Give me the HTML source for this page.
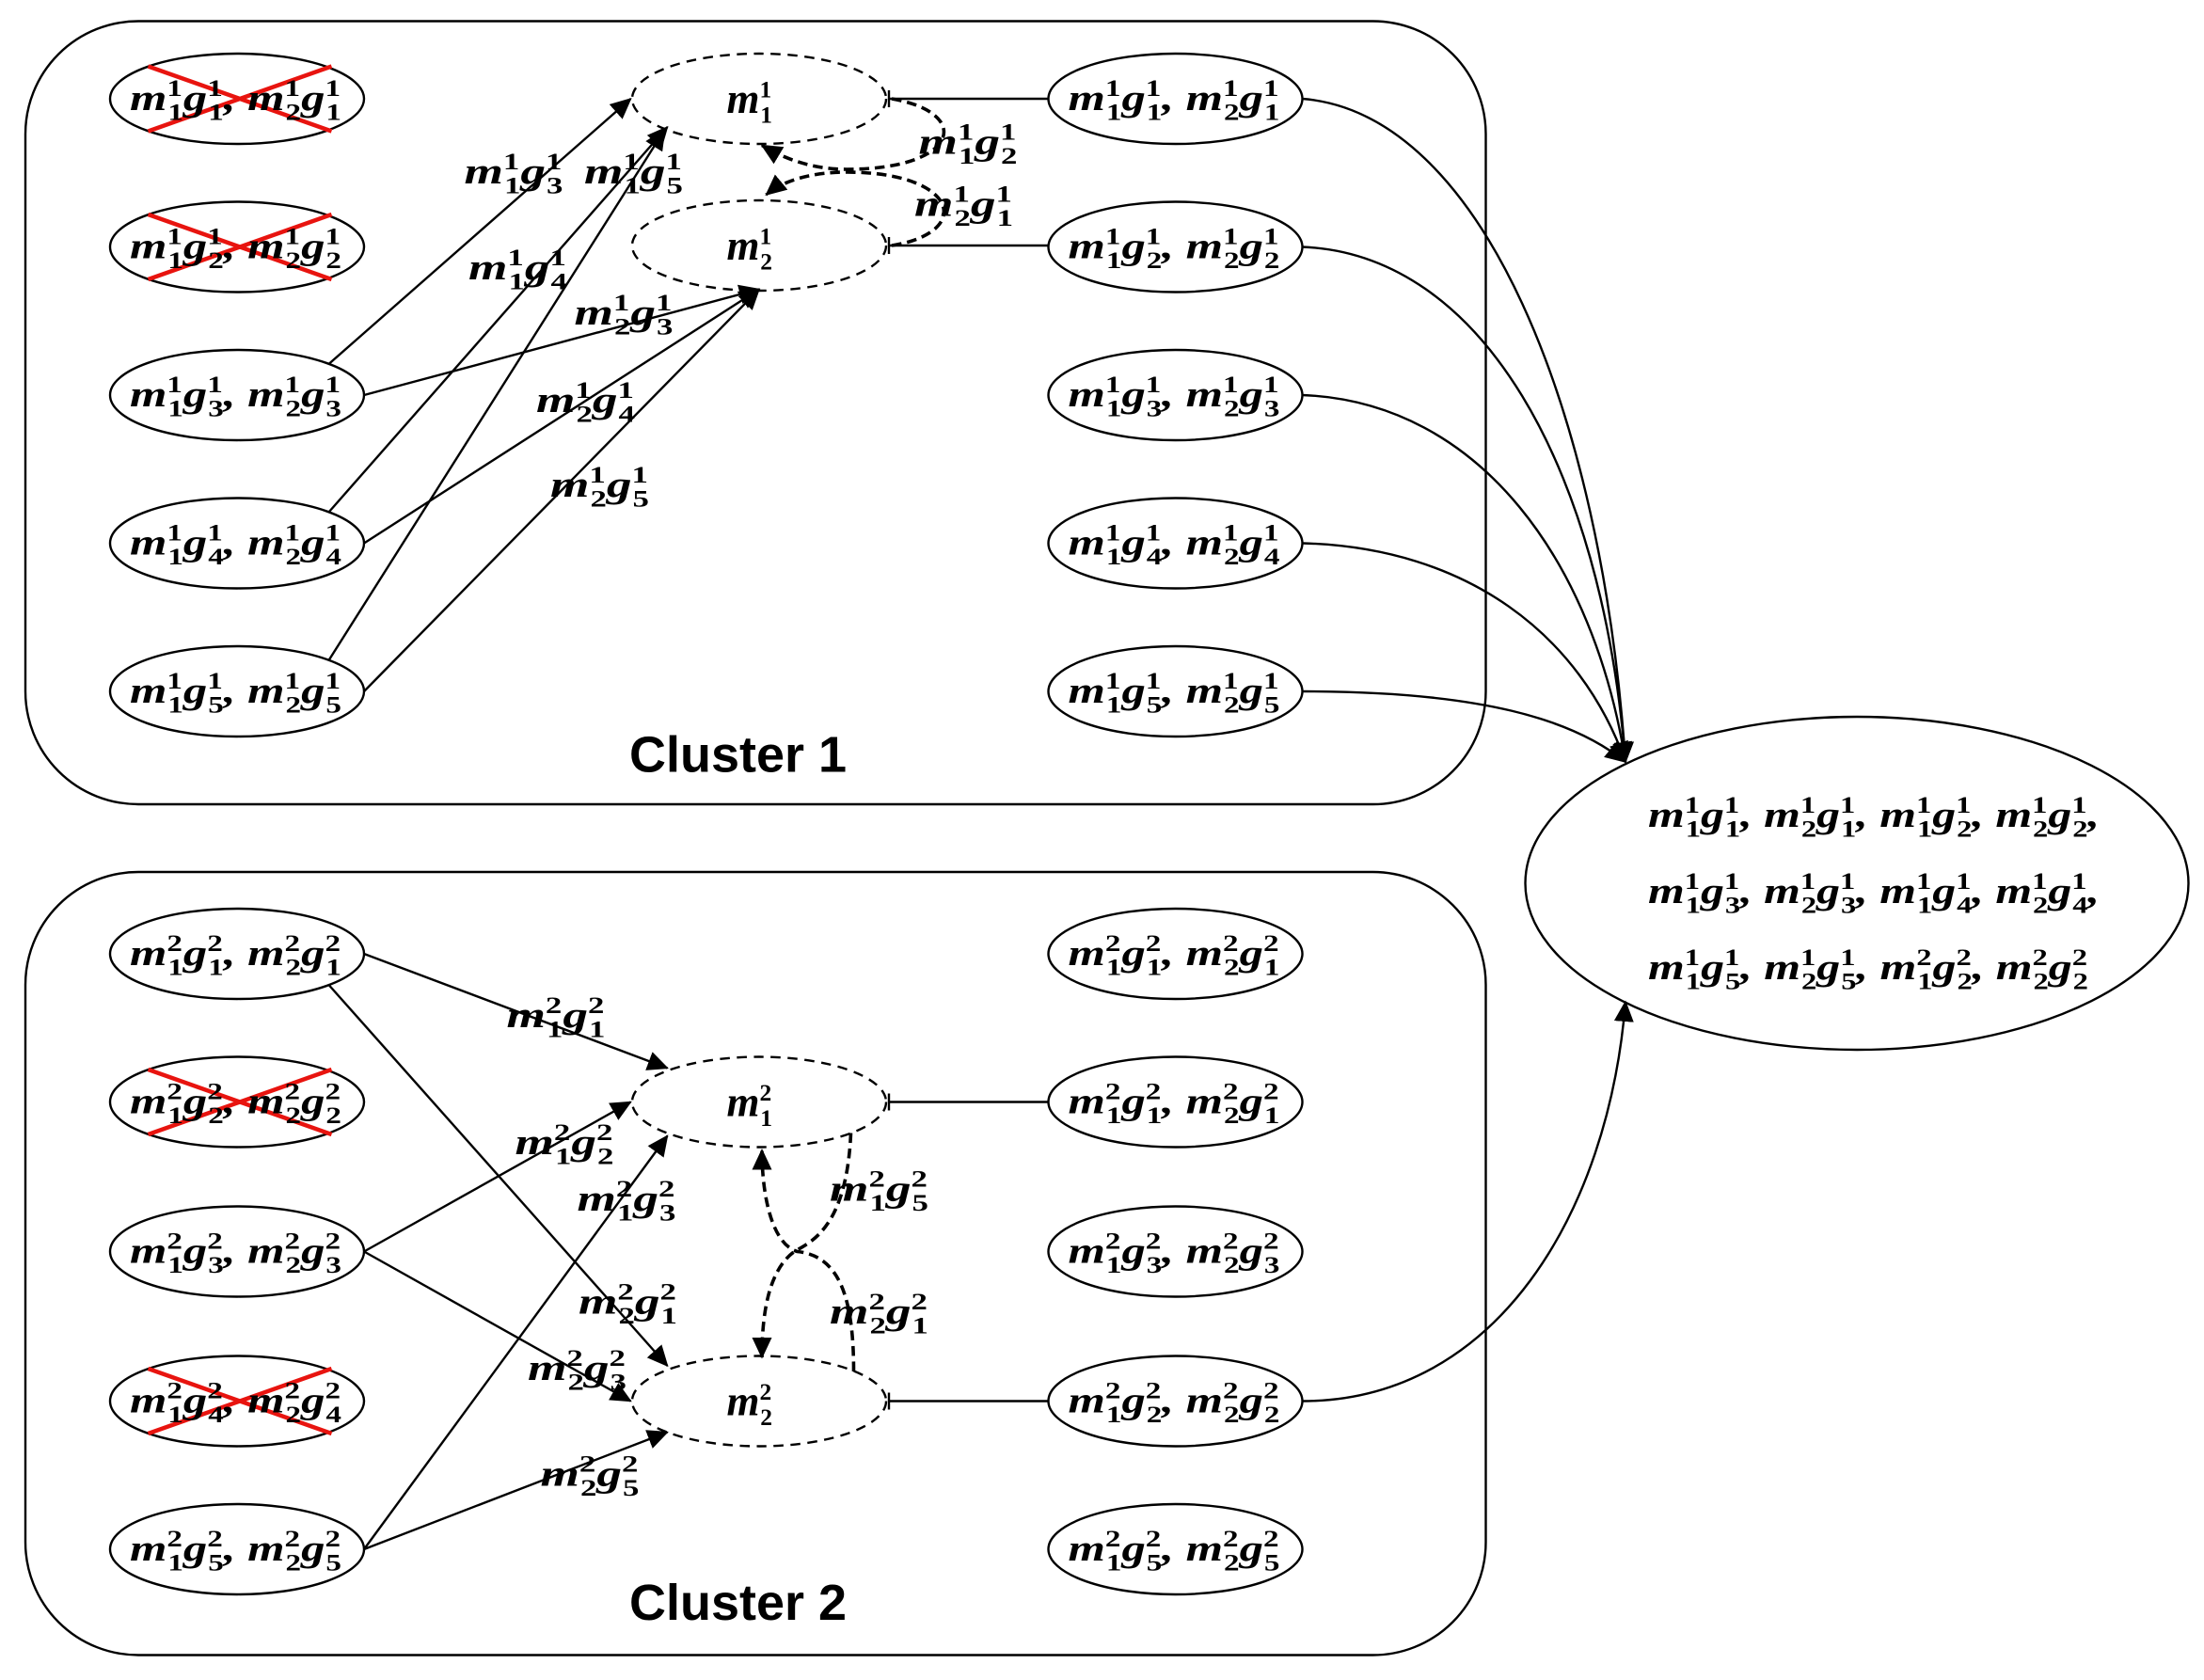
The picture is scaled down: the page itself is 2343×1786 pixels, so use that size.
<!DOCTYPE html>
<html><head><meta charset="utf-8"><style>
html,body{margin:0;padding:0;background:#fff}
svg{display:block}
text{font-family:"Liberation Serif",serif;font-weight:bold;font-style:italic;font-size:26px;fill:#000}
text:not([textLength]){font-size:30px}
.s{font-size:17px;font-style:normal}
text.cl{font-family:"Liberation Sans",sans-serif;font-style:normal;font-size:36px}
</style></head><body>
<svg width="2343" height="1786" viewBox="0 0 1562 1190.67" xmlns="http://www.w3.org/2000/svg">
<defs>
<marker id="a" markerUnits="userSpaceOnUse" markerWidth="16" markerHeight="14" refX="14" refY="7" orient="auto"><path d="M0,0 L15,7 L0,14 Z" fill="#000"/></marker>
</defs>
<g fill="none" stroke="#000" stroke-width="1.6">
<rect x="18" y="15" width="1035" height="555" rx="80"/>
<rect x="18" y="618" width="1035" height="555" rx="80"/>
<ellipse cx="168" cy="70" rx="90" ry="32"/><ellipse cx="168" cy="175" rx="90" ry="32"/><ellipse cx="168" cy="280" rx="90" ry="32"/><ellipse cx="168" cy="385" rx="90" ry="32"/><ellipse cx="168" cy="490" rx="90" ry="32"/>
<ellipse cx="168" cy="676" rx="90" ry="32"/><ellipse cx="168" cy="781" rx="90" ry="32"/><ellipse cx="168" cy="887" rx="90" ry="32"/><ellipse cx="168" cy="993" rx="90" ry="32"/><ellipse cx="168" cy="1098" rx="90" ry="32"/>
<ellipse cx="833" cy="70" rx="90" ry="32"/><ellipse cx="833" cy="175" rx="90" ry="32"/><ellipse cx="833" cy="280" rx="90" ry="32"/><ellipse cx="833" cy="385" rx="90" ry="32"/><ellipse cx="833" cy="490" rx="90" ry="32"/>
<ellipse cx="833" cy="676" rx="90" ry="32"/><ellipse cx="833" cy="781" rx="90" ry="32"/><ellipse cx="833" cy="887" rx="90" ry="32"/><ellipse cx="833" cy="993" rx="90" ry="32"/><ellipse cx="833" cy="1098" rx="90" ry="32"/>
<ellipse cx="1316" cy="626" rx="235" ry="118"/>
<g stroke-dasharray="7,5">
<ellipse cx="538" cy="70" rx="90" ry="32"/><ellipse cx="538" cy="174" rx="90" ry="32"/>
<ellipse cx="538" cy="781" rx="90" ry="32"/><ellipse cx="538" cy="993" rx="90" ry="32"/>
</g>
<path d="M630,70 H743 M630,174 H743 M630,781 H743 M630,993 H743"/>
<path d="M630,64 V76 M630,168 V180 M630,775 V787 M630,987 V999"/>
<g marker-end="url(#a)">
<path d="M233,258 L447,70"/>
<path d="M258,280 L538,205"/>
<path d="M233,363 L473,90"/>
<path d="M258,385 L538,205"/>
<path d="M233,468 L471,92"/>
<path d="M258,490 L538,205"/>
<path d="M258,676 L473,757"/>
<path d="M233,698 L473,968"/>
<path d="M258,887 L447,781"/>
<path d="M258,887 L447,993"/>
<path d="M258,1098 L473,805"/>
<path d="M258,1098 L473,1015"/>
<path d="M923,70 C1050,80 1135,290 1152,540"/>
<path d="M923,175 C1050,180 1135,330 1152,540"/>
<path d="M923,280 C1050,285 1130,400 1152,540"/>
<path d="M923,385 C1040,388 1120,450 1152,540"/>
<path d="M923,490 C1050,490 1115,510 1152,540"/>
<path d="M923,993 C1060,993 1140,860 1152,710"/>
</g>
<g stroke-dasharray="7,4" stroke-width="2.4" marker-end="url(#a)">
<path d="M632,70 C690,80 680,120 600,120 C575,120 555,112 540,103"/>
<path d="M632,174 C690,165 680,122 600,122 C575,122 555,128 543,138"/>
<path d="M603,803 C600,870 575,880 563,887 C545,900 540,930 540,962"/>
<path d="M605,972 C605,920 595,890 565,887 C548,882 540,850 540,815"/>
</g>
</g>
<g stroke="#e8140f" stroke-width="3">
<path d="M105,47 L235,93 M105,93 L235,47"/>
<path d="M105,152 L235,198 M105,198 L235,152"/>
<path d="M105,758 L235,804 M105,804 L235,758"/>
<path d="M105,970 L235,1016 M105,1016 L235,970"/>
</g>
<text class="cl" x="523" y="547" text-anchor="middle">Cluster 1</text>
<text class="cl" x="523" y="1148" text-anchor="middle">Cluster 2</text>

<text x="515" y="80">m<tspan class="s" dy="-11">1</tspan><tspan class="s" dx="-8" dy="18">1</tspan></text>
<text x="515" y="184">m<tspan class="s" dy="-11">1</tspan><tspan class="s" dx="-8" dy="18">2</tspan></text>
<text x="515" y="791">m<tspan class="s" dy="-11">2</tspan><tspan class="s" dx="-8" dy="18">1</tspan></text>
<text x="515" y="1003">m<tspan class="s" dy="-11">2</tspan><tspan class="s" dx="-8" dy="18">2</tspan></text>

<text x="92" y="78" textLength="150" lengthAdjust="spacingAndGlyphs">m<tspan class="s" dy="-10">1</tspan><tspan class="s" dx="-8" dy="17">1</tspan><tspan dy="-7">g</tspan><tspan class="s" dy="-10">1</tspan><tspan class="s" dx="-8" dy="17">1</tspan><tspan dy="-7">, m</tspan><tspan class="s" dy="-10">1</tspan><tspan class="s" dx="-8" dy="17">2</tspan><tspan dy="-7">g</tspan><tspan class="s" dy="-10">1</tspan><tspan class="s" dx="-8" dy="17">1</tspan></text>
<text x="92" y="183" textLength="150" lengthAdjust="spacingAndGlyphs">m<tspan class="s" dy="-10">1</tspan><tspan class="s" dx="-8" dy="17">1</tspan><tspan dy="-7">g</tspan><tspan class="s" dy="-10">1</tspan><tspan class="s" dx="-8" dy="17">2</tspan><tspan dy="-7">, m</tspan><tspan class="s" dy="-10">1</tspan><tspan class="s" dx="-8" dy="17">2</tspan><tspan dy="-7">g</tspan><tspan class="s" dy="-10">1</tspan><tspan class="s" dx="-8" dy="17">2</tspan></text>
<text x="92" y="288" textLength="150" lengthAdjust="spacingAndGlyphs">m<tspan class="s" dy="-10">1</tspan><tspan class="s" dx="-8" dy="17">1</tspan><tspan dy="-7">g</tspan><tspan class="s" dy="-10">1</tspan><tspan class="s" dx="-8" dy="17">3</tspan><tspan dy="-7">, m</tspan><tspan class="s" dy="-10">1</tspan><tspan class="s" dx="-8" dy="17">2</tspan><tspan dy="-7">g</tspan><tspan class="s" dy="-10">1</tspan><tspan class="s" dx="-8" dy="17">3</tspan></text>
<text x="92" y="393" textLength="150" lengthAdjust="spacingAndGlyphs">m<tspan class="s" dy="-10">1</tspan><tspan class="s" dx="-8" dy="17">1</tspan><tspan dy="-7">g</tspan><tspan class="s" dy="-10">1</tspan><tspan class="s" dx="-8" dy="17">4</tspan><tspan dy="-7">, m</tspan><tspan class="s" dy="-10">1</tspan><tspan class="s" dx="-8" dy="17">2</tspan><tspan dy="-7">g</tspan><tspan class="s" dy="-10">1</tspan><tspan class="s" dx="-8" dy="17">4</tspan></text>
<text x="92" y="498" textLength="150" lengthAdjust="spacingAndGlyphs">m<tspan class="s" dy="-10">1</tspan><tspan class="s" dx="-8" dy="17">1</tspan><tspan dy="-7">g</tspan><tspan class="s" dy="-10">1</tspan><tspan class="s" dx="-8" dy="17">5</tspan><tspan dy="-7">, m</tspan><tspan class="s" dy="-10">1</tspan><tspan class="s" dx="-8" dy="17">2</tspan><tspan dy="-7">g</tspan><tspan class="s" dy="-10">1</tspan><tspan class="s" dx="-8" dy="17">5</tspan></text>
<text x="757" y="78" textLength="150" lengthAdjust="spacingAndGlyphs">m<tspan class="s" dy="-10">1</tspan><tspan class="s" dx="-8" dy="17">1</tspan><tspan dy="-7">g</tspan><tspan class="s" dy="-10">1</tspan><tspan class="s" dx="-8" dy="17">1</tspan><tspan dy="-7">, m</tspan><tspan class="s" dy="-10">1</tspan><tspan class="s" dx="-8" dy="17">2</tspan><tspan dy="-7">g</tspan><tspan class="s" dy="-10">1</tspan><tspan class="s" dx="-8" dy="17">1</tspan></text>
<text x="757" y="183" textLength="150" lengthAdjust="spacingAndGlyphs">m<tspan class="s" dy="-10">1</tspan><tspan class="s" dx="-8" dy="17">1</tspan><tspan dy="-7">g</tspan><tspan class="s" dy="-10">1</tspan><tspan class="s" dx="-8" dy="17">2</tspan><tspan dy="-7">, m</tspan><tspan class="s" dy="-10">1</tspan><tspan class="s" dx="-8" dy="17">2</tspan><tspan dy="-7">g</tspan><tspan class="s" dy="-10">1</tspan><tspan class="s" dx="-8" dy="17">2</tspan></text>
<text x="757" y="288" textLength="150" lengthAdjust="spacingAndGlyphs">m<tspan class="s" dy="-10">1</tspan><tspan class="s" dx="-8" dy="17">1</tspan><tspan dy="-7">g</tspan><tspan class="s" dy="-10">1</tspan><tspan class="s" dx="-8" dy="17">3</tspan><tspan dy="-7">, m</tspan><tspan class="s" dy="-10">1</tspan><tspan class="s" dx="-8" dy="17">2</tspan><tspan dy="-7">g</tspan><tspan class="s" dy="-10">1</tspan><tspan class="s" dx="-8" dy="17">3</tspan></text>
<text x="757" y="393" textLength="150" lengthAdjust="spacingAndGlyphs">m<tspan class="s" dy="-10">1</tspan><tspan class="s" dx="-8" dy="17">1</tspan><tspan dy="-7">g</tspan><tspan class="s" dy="-10">1</tspan><tspan class="s" dx="-8" dy="17">4</tspan><tspan dy="-7">, m</tspan><tspan class="s" dy="-10">1</tspan><tspan class="s" dx="-8" dy="17">2</tspan><tspan dy="-7">g</tspan><tspan class="s" dy="-10">1</tspan><tspan class="s" dx="-8" dy="17">4</tspan></text>
<text x="757" y="498" textLength="150" lengthAdjust="spacingAndGlyphs">m<tspan class="s" dy="-10">1</tspan><tspan class="s" dx="-8" dy="17">1</tspan><tspan dy="-7">g</tspan><tspan class="s" dy="-10">1</tspan><tspan class="s" dx="-8" dy="17">5</tspan><tspan dy="-7">, m</tspan><tspan class="s" dy="-10">1</tspan><tspan class="s" dx="-8" dy="17">2</tspan><tspan dy="-7">g</tspan><tspan class="s" dy="-10">1</tspan><tspan class="s" dx="-8" dy="17">5</tspan></text>
<text x="92" y="684" textLength="150" lengthAdjust="spacingAndGlyphs">m<tspan class="s" dy="-10">2</tspan><tspan class="s" dx="-8" dy="17">1</tspan><tspan dy="-7">g</tspan><tspan class="s" dy="-10">2</tspan><tspan class="s" dx="-8" dy="17">1</tspan><tspan dy="-7">, m</tspan><tspan class="s" dy="-10">2</tspan><tspan class="s" dx="-8" dy="17">2</tspan><tspan dy="-7">g</tspan><tspan class="s" dy="-10">2</tspan><tspan class="s" dx="-8" dy="17">1</tspan></text>
<text x="92" y="789" textLength="150" lengthAdjust="spacingAndGlyphs">m<tspan class="s" dy="-10">2</tspan><tspan class="s" dx="-8" dy="17">1</tspan><tspan dy="-7">g</tspan><tspan class="s" dy="-10">2</tspan><tspan class="s" dx="-8" dy="17">2</tspan><tspan dy="-7">, m</tspan><tspan class="s" dy="-10">2</tspan><tspan class="s" dx="-8" dy="17">2</tspan><tspan dy="-7">g</tspan><tspan class="s" dy="-10">2</tspan><tspan class="s" dx="-8" dy="17">2</tspan></text>
<text x="92" y="895" textLength="150" lengthAdjust="spacingAndGlyphs">m<tspan class="s" dy="-10">2</tspan><tspan class="s" dx="-8" dy="17">1</tspan><tspan dy="-7">g</tspan><tspan class="s" dy="-10">2</tspan><tspan class="s" dx="-8" dy="17">3</tspan><tspan dy="-7">, m</tspan><tspan class="s" dy="-10">2</tspan><tspan class="s" dx="-8" dy="17">2</tspan><tspan dy="-7">g</tspan><tspan class="s" dy="-10">2</tspan><tspan class="s" dx="-8" dy="17">3</tspan></text>
<text x="92" y="1001" textLength="150" lengthAdjust="spacingAndGlyphs">m<tspan class="s" dy="-10">2</tspan><tspan class="s" dx="-8" dy="17">1</tspan><tspan dy="-7">g</tspan><tspan class="s" dy="-10">2</tspan><tspan class="s" dx="-8" dy="17">4</tspan><tspan dy="-7">, m</tspan><tspan class="s" dy="-10">2</tspan><tspan class="s" dx="-8" dy="17">2</tspan><tspan dy="-7">g</tspan><tspan class="s" dy="-10">2</tspan><tspan class="s" dx="-8" dy="17">4</tspan></text>
<text x="92" y="1106" textLength="150" lengthAdjust="spacingAndGlyphs">m<tspan class="s" dy="-10">2</tspan><tspan class="s" dx="-8" dy="17">1</tspan><tspan dy="-7">g</tspan><tspan class="s" dy="-10">2</tspan><tspan class="s" dx="-8" dy="17">5</tspan><tspan dy="-7">, m</tspan><tspan class="s" dy="-10">2</tspan><tspan class="s" dx="-8" dy="17">2</tspan><tspan dy="-7">g</tspan><tspan class="s" dy="-10">2</tspan><tspan class="s" dx="-8" dy="17">5</tspan></text>
<text x="757" y="684" textLength="150" lengthAdjust="spacingAndGlyphs">m<tspan class="s" dy="-10">2</tspan><tspan class="s" dx="-8" dy="17">1</tspan><tspan dy="-7">g</tspan><tspan class="s" dy="-10">2</tspan><tspan class="s" dx="-8" dy="17">1</tspan><tspan dy="-7">, m</tspan><tspan class="s" dy="-10">2</tspan><tspan class="s" dx="-8" dy="17">2</tspan><tspan dy="-7">g</tspan><tspan class="s" dy="-10">2</tspan><tspan class="s" dx="-8" dy="17">1</tspan></text>
<text x="757" y="789" textLength="150" lengthAdjust="spacingAndGlyphs">m<tspan class="s" dy="-10">2</tspan><tspan class="s" dx="-8" dy="17">1</tspan><tspan dy="-7">g</tspan><tspan class="s" dy="-10">2</tspan><tspan class="s" dx="-8" dy="17">1</tspan><tspan dy="-7">, m</tspan><tspan class="s" dy="-10">2</tspan><tspan class="s" dx="-8" dy="17">2</tspan><tspan dy="-7">g</tspan><tspan class="s" dy="-10">2</tspan><tspan class="s" dx="-8" dy="17">1</tspan></text>
<text x="757" y="895" textLength="150" lengthAdjust="spacingAndGlyphs">m<tspan class="s" dy="-10">2</tspan><tspan class="s" dx="-8" dy="17">1</tspan><tspan dy="-7">g</tspan><tspan class="s" dy="-10">2</tspan><tspan class="s" dx="-8" dy="17">3</tspan><tspan dy="-7">, m</tspan><tspan class="s" dy="-10">2</tspan><tspan class="s" dx="-8" dy="17">2</tspan><tspan dy="-7">g</tspan><tspan class="s" dy="-10">2</tspan><tspan class="s" dx="-8" dy="17">3</tspan></text>
<text x="757" y="1001" textLength="150" lengthAdjust="spacingAndGlyphs">m<tspan class="s" dy="-10">2</tspan><tspan class="s" dx="-8" dy="17">1</tspan><tspan dy="-7">g</tspan><tspan class="s" dy="-10">2</tspan><tspan class="s" dx="-8" dy="17">2</tspan><tspan dy="-7">, m</tspan><tspan class="s" dy="-10">2</tspan><tspan class="s" dx="-8" dy="17">2</tspan><tspan dy="-7">g</tspan><tspan class="s" dy="-10">2</tspan><tspan class="s" dx="-8" dy="17">2</tspan></text>
<text x="757" y="1106" textLength="150" lengthAdjust="spacingAndGlyphs">m<tspan class="s" dy="-10">2</tspan><tspan class="s" dx="-8" dy="17">1</tspan><tspan dy="-7">g</tspan><tspan class="s" dy="-10">2</tspan><tspan class="s" dx="-8" dy="17">5</tspan><tspan dy="-7">, m</tspan><tspan class="s" dy="-10">2</tspan><tspan class="s" dx="-8" dy="17">2</tspan><tspan dy="-7">g</tspan><tspan class="s" dy="-10">2</tspan><tspan class="s" dx="-8" dy="17">5</tspan></text>

<text x="329" y="130" textLength="70" lengthAdjust="spacingAndGlyphs">m<tspan class="s" dy="-10">1</tspan><tspan class="s" dx="-8" dy="17">1</tspan><tspan dy="-7">g</tspan><tspan class="s" dy="-10">1</tspan><tspan class="s" dx="-8" dy="17">3</tspan></text>
<text x="414" y="130" textLength="70" lengthAdjust="spacingAndGlyphs">m<tspan class="s" dy="-10">1</tspan><tspan class="s" dx="-8" dy="17">1</tspan><tspan dy="-7">g</tspan><tspan class="s" dy="-10">1</tspan><tspan class="s" dx="-8" dy="17">5</tspan></text>
<text x="332" y="198" textLength="70" lengthAdjust="spacingAndGlyphs">m<tspan class="s" dy="-10">1</tspan><tspan class="s" dx="-8" dy="17">1</tspan><tspan dy="-7">g</tspan><tspan class="s" dy="-10">1</tspan><tspan class="s" dx="-8" dy="17">4</tspan></text>
<text x="407" y="230" textLength="70" lengthAdjust="spacingAndGlyphs">m<tspan class="s" dy="-10">1</tspan><tspan class="s" dx="-8" dy="17">2</tspan><tspan dy="-7">g</tspan><tspan class="s" dy="-10">1</tspan><tspan class="s" dx="-8" dy="17">3</tspan></text>
<text x="380" y="292" textLength="70" lengthAdjust="spacingAndGlyphs">m<tspan class="s" dy="-10">1</tspan><tspan class="s" dx="-8" dy="17">2</tspan><tspan dy="-7">g</tspan><tspan class="s" dy="-10">1</tspan><tspan class="s" dx="-8" dy="17">4</tspan></text>
<text x="390" y="352" textLength="70" lengthAdjust="spacingAndGlyphs">m<tspan class="s" dy="-10">1</tspan><tspan class="s" dx="-8" dy="17">2</tspan><tspan dy="-7">g</tspan><tspan class="s" dy="-10">1</tspan><tspan class="s" dx="-8" dy="17">5</tspan></text>
<text x="651" y="109" textLength="70" lengthAdjust="spacingAndGlyphs">m<tspan class="s" dy="-10">1</tspan><tspan class="s" dx="-8" dy="17">1</tspan><tspan dy="-7">g</tspan><tspan class="s" dy="-10">1</tspan><tspan class="s" dx="-8" dy="17">2</tspan></text>
<text x="648" y="153" textLength="70" lengthAdjust="spacingAndGlyphs">m<tspan class="s" dy="-10">1</tspan><tspan class="s" dx="-8" dy="17">2</tspan><tspan dy="-7">g</tspan><tspan class="s" dy="-10">1</tspan><tspan class="s" dx="-8" dy="17">1</tspan></text>
<text x="359" y="728" textLength="70" lengthAdjust="spacingAndGlyphs">m<tspan class="s" dy="-10">2</tspan><tspan class="s" dx="-8" dy="17">1</tspan><tspan dy="-7">g</tspan><tspan class="s" dy="-10">2</tspan><tspan class="s" dx="-8" dy="17">1</tspan></text>
<text x="365" y="818" textLength="70" lengthAdjust="spacingAndGlyphs">m<tspan class="s" dy="-10">2</tspan><tspan class="s" dx="-8" dy="17">1</tspan><tspan dy="-7">g</tspan><tspan class="s" dy="-10">2</tspan><tspan class="s" dx="-8" dy="17">2</tspan></text>
<text x="409" y="858" textLength="70" lengthAdjust="spacingAndGlyphs">m<tspan class="s" dy="-10">2</tspan><tspan class="s" dx="-8" dy="17">1</tspan><tspan dy="-7">g</tspan><tspan class="s" dy="-10">2</tspan><tspan class="s" dx="-8" dy="17">3</tspan></text>
<text x="410" y="931" textLength="70" lengthAdjust="spacingAndGlyphs">m<tspan class="s" dy="-10">2</tspan><tspan class="s" dx="-8" dy="17">2</tspan><tspan dy="-7">g</tspan><tspan class="s" dy="-10">2</tspan><tspan class="s" dx="-8" dy="17">1</tspan></text>
<text x="374" y="978" textLength="70" lengthAdjust="spacingAndGlyphs">m<tspan class="s" dy="-10">2</tspan><tspan class="s" dx="-8" dy="17">2</tspan><tspan dy="-7">g</tspan><tspan class="s" dy="-10">2</tspan><tspan class="s" dx="-8" dy="17">3</tspan></text>
<text x="383" y="1053" textLength="70" lengthAdjust="spacingAndGlyphs">m<tspan class="s" dy="-10">2</tspan><tspan class="s" dx="-8" dy="17">2</tspan><tspan dy="-7">g</tspan><tspan class="s" dy="-10">2</tspan><tspan class="s" dx="-8" dy="17">5</tspan></text>
<text x="588" y="851" textLength="70" lengthAdjust="spacingAndGlyphs">m<tspan class="s" dy="-10">2</tspan><tspan class="s" dx="-8" dy="17">1</tspan><tspan dy="-7">g</tspan><tspan class="s" dy="-10">2</tspan><tspan class="s" dx="-8" dy="17">5</tspan></text>
<text x="588" y="938" textLength="70" lengthAdjust="spacingAndGlyphs">m<tspan class="s" dy="-10">2</tspan><tspan class="s" dx="-8" dy="17">2</tspan><tspan dy="-7">g</tspan><tspan class="s" dy="-10">2</tspan><tspan class="s" dx="-8" dy="17">1</tspan></text>

<text x="1168" y="586" textLength="320" lengthAdjust="spacingAndGlyphs">m<tspan class="s" dy="-10">1</tspan><tspan class="s" dx="-8" dy="17">1</tspan><tspan dy="-7">g</tspan><tspan class="s" dy="-10">1</tspan><tspan class="s" dx="-8" dy="17">1</tspan><tspan dy="-7">, m</tspan><tspan class="s" dy="-10">1</tspan><tspan class="s" dx="-8" dy="17">2</tspan><tspan dy="-7">g</tspan><tspan class="s" dy="-10">1</tspan><tspan class="s" dx="-8" dy="17">1</tspan><tspan dy="-7">, m</tspan><tspan class="s" dy="-10">1</tspan><tspan class="s" dx="-8" dy="17">1</tspan><tspan dy="-7">g</tspan><tspan class="s" dy="-10">1</tspan><tspan class="s" dx="-8" dy="17">2</tspan><tspan dy="-7">, m</tspan><tspan class="s" dy="-10">1</tspan><tspan class="s" dx="-8" dy="17">2</tspan><tspan dy="-7">g</tspan><tspan class="s" dy="-10">1</tspan><tspan class="s" dx="-8" dy="17">2</tspan><tspan dy="-7">,</tspan></text>
<text x="1168" y="640" textLength="320" lengthAdjust="spacingAndGlyphs">m<tspan class="s" dy="-10">1</tspan><tspan class="s" dx="-8" dy="17">1</tspan><tspan dy="-7">g</tspan><tspan class="s" dy="-10">1</tspan><tspan class="s" dx="-8" dy="17">3</tspan><tspan dy="-7">, m</tspan><tspan class="s" dy="-10">1</tspan><tspan class="s" dx="-8" dy="17">2</tspan><tspan dy="-7">g</tspan><tspan class="s" dy="-10">1</tspan><tspan class="s" dx="-8" dy="17">3</tspan><tspan dy="-7">, m</tspan><tspan class="s" dy="-10">1</tspan><tspan class="s" dx="-8" dy="17">1</tspan><tspan dy="-7">g</tspan><tspan class="s" dy="-10">1</tspan><tspan class="s" dx="-8" dy="17">4</tspan><tspan dy="-7">, m</tspan><tspan class="s" dy="-10">1</tspan><tspan class="s" dx="-8" dy="17">2</tspan><tspan dy="-7">g</tspan><tspan class="s" dy="-10">1</tspan><tspan class="s" dx="-8" dy="17">4</tspan><tspan dy="-7">,</tspan></text>
<text x="1168" y="694" textLength="312" lengthAdjust="spacingAndGlyphs">m<tspan class="s" dy="-10">1</tspan><tspan class="s" dx="-8" dy="17">1</tspan><tspan dy="-7">g</tspan><tspan class="s" dy="-10">1</tspan><tspan class="s" dx="-8" dy="17">5</tspan><tspan dy="-7">, m</tspan><tspan class="s" dy="-10">1</tspan><tspan class="s" dx="-8" dy="17">2</tspan><tspan dy="-7">g</tspan><tspan class="s" dy="-10">1</tspan><tspan class="s" dx="-8" dy="17">5</tspan><tspan dy="-7">, m</tspan><tspan class="s" dy="-10">2</tspan><tspan class="s" dx="-8" dy="17">1</tspan><tspan dy="-7">g</tspan><tspan class="s" dy="-10">2</tspan><tspan class="s" dx="-8" dy="17">2</tspan><tspan dy="-7">, m</tspan><tspan class="s" dy="-10">2</tspan><tspan class="s" dx="-8" dy="17">2</tspan><tspan dy="-7">g</tspan><tspan class="s" dy="-10">2</tspan><tspan class="s" dx="-8" dy="17">2</tspan></text>
</svg>
</body></html>
